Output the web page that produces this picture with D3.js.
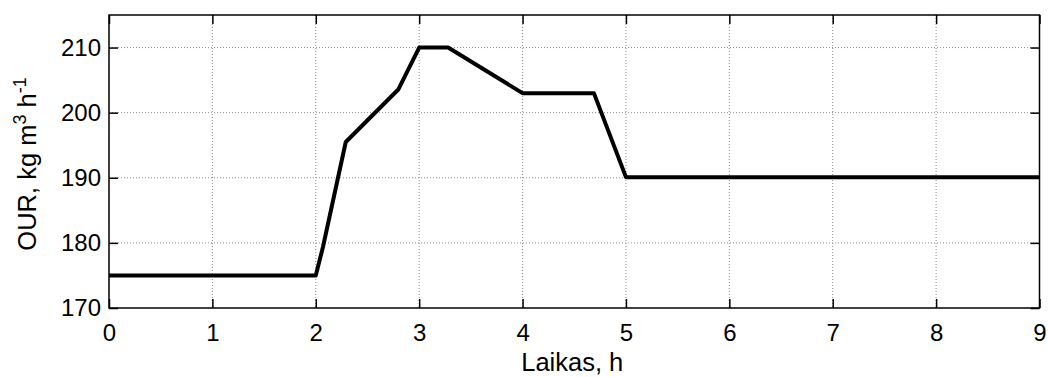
<!DOCTYPE html>
<html>
<head>
<meta charset="utf-8">
<script src="https://cdn.jsdelivr.net/npm/d3@7"></script>
<style>
  html, body { margin: 0; padding: 0; background: #fff; }
  svg { display: block; font-family: "Liberation Sans", Arial, sans-serif; }
</style>
</head>
<body>
<svg id="chart" width="1048" height="377"></svg>
<script>
// OUR profile over time
const timeH = [0, 2.0, 2.07, 2.29, 2.8, 3.0, 3.28, 4.0, 4.69, 5.0, 9];
const ourValues = [175, 175, 179.4, 195.5, 203.6, 210, 210, 203, 203, 190.1, 190.1];
const xTicks = [0, 1, 2, 3, 4, 5, 6, 7, 8, 9];
const yTicks = [170, 180, 190, 200, 210];

const W = 1048, H = 377;
const m = { left: 109, right: 1048 - 1039.5, top: 15, bottom: 377 - 308 };
const svg = d3.select("#chart");

const x = d3.scaleLinear().domain([0, 9]).range([m.left, W - m.right]);
const y = d3.scaleLinear().domain([170, 215]).range([H - m.bottom, m.top]);

const tickLen = 9;
const tickFont = 24;
const labelFont = 25.5;

// dotted grid
const grid = svg.append("g").attr("stroke", "#8c8c8c").attr("stroke-width", 1)
  .attr("stroke-dasharray", "1,2");
xTicks.slice(1, -1).forEach(t => {
  grid.append("line").attr("x1", x(t)).attr("x2", x(t))
    .attr("y1", y(215)).attr("y2", y(170));
});
yTicks.slice(1).forEach(t => {
  grid.append("line").attr("x1", x(0)).attr("x2", x(9))
    .attr("y1", y(t)).attr("y2", y(t));
});

// axes with inward ticks on all four sides
const bottomAxis = d3.axisBottom(x).tickValues(xTicks).tickSizeInner(-tickLen).tickSizeOuter(0).tickPadding(16);
const topAxis = d3.axisTop(x).tickValues(xTicks).tickSizeInner(-tickLen).tickSizeOuter(0).tickFormat("");
const leftAxis = d3.axisLeft(y).tickValues(yTicks).tickSizeInner(-tickLen).tickSizeOuter(0).tickPadding(8);
const rightAxis = d3.axisRight(y).tickValues(yTicks).tickSizeInner(-tickLen).tickSizeOuter(0).tickFormat("");

function style(g) {
  g.select(".domain").remove();
  g.selectAll(".tick line").attr("stroke", "#000").attr("stroke-width", 1.5);
  g.selectAll(".tick text").attr("fill", "#000").attr("font-size", tickFont)
    .attr("font-family", "Liberation Sans, Arial, sans-serif");
}
svg.append("g").attr("transform", `translate(0,${y(170)})`).call(bottomAxis).call(style);
svg.append("g").attr("transform", `translate(0,${y(215)})`).call(topAxis).call(style);
svg.append("g").attr("transform", `translate(${x(0)},0)`).call(leftAxis).call(style);
svg.append("g").attr("transform", `translate(${x(9)},0)`).call(rightAxis).call(style);

// frame
svg.append("rect").attr("x", x(0)).attr("y", y(215))
  .attr("width", x(9) - x(0)).attr("height", y(170) - y(215))
  .attr("fill", "none").attr("stroke", "#000").attr("stroke-width", 1.5);

// series
const line = d3.line().x((d, i) => x(timeH[i])).y(d => y(d));
svg.append("path").datum(ourValues).attr("d", line)
  .attr("fill", "none").attr("stroke", "#000").attr("stroke-width", 4)
  .attr("stroke-linejoin", "round");

// axis labels
svg.append("text").attr("x", (x(0) + x(9)) / 2 - 2).attr("y", 371)
  .attr("text-anchor", "middle").attr("font-size", labelFont).text("Laikas, h");

const yl = svg.append("text")
  .attr("transform", `translate(36,164) rotate(-90)`)
  .attr("text-anchor", "middle").attr("font-size", labelFont);
yl.append("tspan").text("OUR,  kg m");
yl.append("tspan").attr("dy", -10).attr("font-size", 18).text("3");
yl.append("tspan").attr("dy", 10).text(" h");
yl.append("tspan").attr("dy", -10).attr("font-size", 18).text("-1");
</script>
</body>
</html>
